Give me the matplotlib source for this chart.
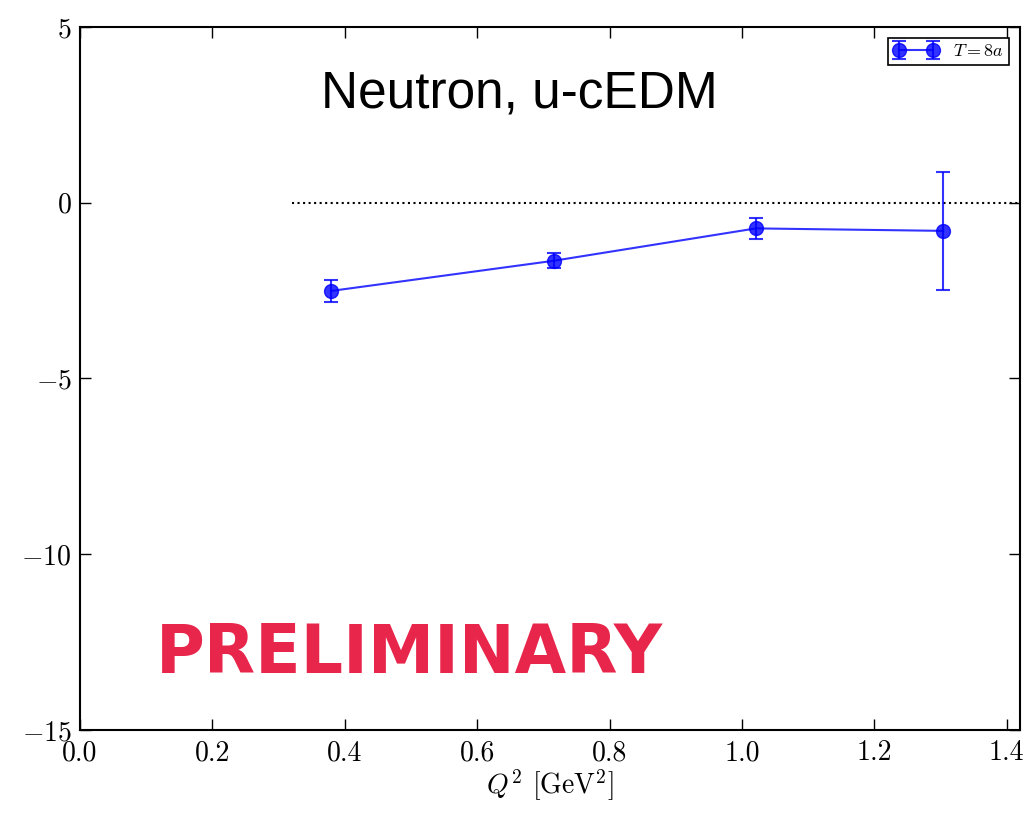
import matplotlib
matplotlib.use("Agg")
import matplotlib.pyplot as plt

plt.rcParams['mathtext.fontset'] = 'cm'
plt.rcParams['font.family'] = 'serif'
plt.rcParams['font.serif'] = ['cmr10', 'DejaVu Serif']
plt.rcParams['axes.formatter.use_mathtext'] = True

q2 = [0.379, 0.716, 1.021, 1.304]
values = [-2.51, -1.65, -0.73, -0.80]
errors = [0.31, 0.21, 0.30, 1.68]
ref_x = [0.32, 1.42]
ref_y = [0.0, 0.0]

fig = plt.figure(figsize=(10.31, 8.13), dpi=100)
ax = fig.add_axes([0.0776, 0.1021, 0.9893 - 0.0776, 0.9668 - 0.1021])

ax.plot(ref_x, ref_y, linestyle=':', color='black', linewidth=1.5)
ax.errorbar(q2, values, yerr=errors, fmt='o-', color='#0000ff', alpha=0.8,
            markersize=10, linewidth=1.5, capsize=5, capthick=1.5,
            elinewidth=1.5, label=r'$T=8a$')

ax.set_xlim(0, 1.42)
ax.set_ylim(-15, 5)
ax.set_xticks([0.0, 0.2, 0.4, 0.6, 0.8, 1.0, 1.2, 1.4])
ax.set_xticklabels(['0.0', '0.2', '0.4', '0.6', '0.8', '1.0', '1.2', '1.4'])
ax.set_yticks([-15, -10, -5, 0, 5])
ax.set_yticklabels([r'$-15$', r'$-10$', r'$-5$', r'$0$', r'$5$'])
ax.tick_params(direction='in', top=True, right=True, length=8, width=1,
               labelsize=20)
ax.tick_params(axis='x', pad=7)
ax.tick_params(axis='y', pad=6)
for s in ax.spines.values():
    s.set_linewidth(1.5)

ax.set_xlabel(r'$Q^2$ [GeV$^2$]', fontsize=20, labelpad=1)

leg = ax.legend(loc='upper right', numpoints=2, fontsize=13, fancybox=False,
                edgecolor='black', framealpha=1, borderaxespad=0.6,
                handlelength=2.5, borderpad=0.3)
leg.get_frame().set_linewidth(1.2)

ax.text(0.467, 0.905, 'Neutron, u-cEDM', transform=ax.transAxes,
        fontsize=37, family='Liberation Sans', ha='center', va='center')
ax.text(0.351, 0.108, 'PRELIMINARY', transform=ax.transAxes,
        fontsize=48, family='DejaVu Sans', fontweight='bold', color='#e8254b',
        ha='center', va='center')

fig.savefig('out.png', dpi=100)
